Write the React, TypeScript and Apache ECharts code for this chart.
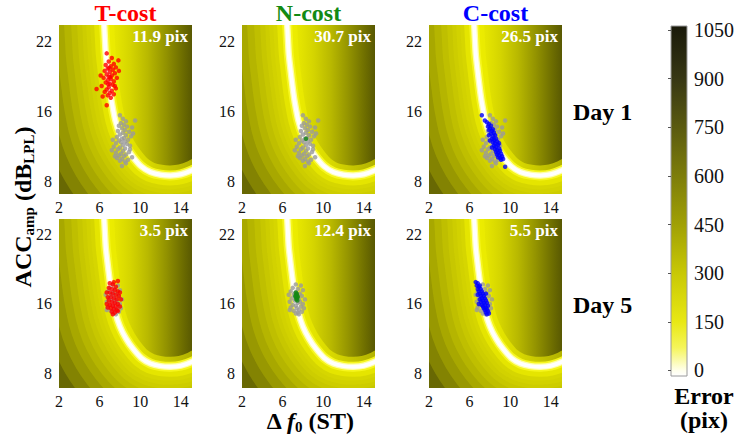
import React, { useEffect, useRef } from "react";
import * as echarts from "echarts";

const FONT = "Liberation Serif, serif";

// ---------- texts ----------
const colTitles = ["T-cost", "N-cost", "C-cost"];
const colColors = ["#ff0000", "#138a13", "#0000ff"];
const dayLabels = ["Day 1", "Day 5"];
const errTexts = [
  ["11.9 pix", "30.7 pix", "26.5 pix"],
  ["3.5 pix", "12.4 pix", "5.5 pix"],
];
const xTicks = [2, 6, 10, 14];
const yTicks = [8, 16, 22];
const cbTicks = [0, 150, 300, 450, 600, 750, 900, 1050];

// ---------- zero-error curve (Δf0 ST, ACC dB) ----------
const curve: number[][] = [
  [6.3, 25], [6.45, 23.4], [6.6, 21.0], [6.75, 19.8], [7.0, 18.0], [7.2, 16.8],
  [7.55, 15.0], [8.0, 13.4], [8.6, 12.0], [9.3, 10.8], [10.1, 9.75], [11.0, 9.1],
  [12.0, 8.8], [13.0, 8.72], [14.0, 8.85], [15.1, 9.3], [16.2, 10.0],
];

// ---------- scatter data ----------
const grayDay1: number[][] = [
  [8.0, 15.6], [8.3, 15.2], [9.5, 15.0], [8.6, 14.9], [8.1, 14.7], [8.4, 14.5], [7.9, 14.4],
  [8.7, 14.3], [9.2, 14.2], [8.2, 14.1], [8.5, 13.9], [7.8, 13.8], [8.9, 13.7], [8.3, 13.6],
  [8.0, 13.4], [8.6, 13.3], [9.1, 13.2], [7.7, 13.1], [8.4, 13.0], [8.2, 12.9], [8.8, 12.8],
  [7.9, 12.7], [8.5, 12.6], [8.1, 12.5], [7.6, 12.4], [8.7, 12.3], [8.3, 12.2], [9.0, 12.1],
  [7.4, 12.0], [8.0, 11.9], [8.5, 11.8], [7.8, 11.7], [7.2, 11.6], [8.3, 11.5], [8.9, 11.4],
  [7.6, 11.3], [8.1, 11.2], [8.6, 11.1], [7.9, 11.0], [8.4, 10.9], [9.2, 10.8], [7.7, 10.7],
  [8.2, 10.6], [8.8, 10.5], [8.0, 10.4], [8.5, 10.3], [7.5, 10.9], [9.0, 11.7], [8.2, 9.8],
  [7.3, 12.8], [9.3, 13.5], [8.6, 10.1],
];
const redDay1: number[][] = [
  [6.7, 21.0], [7.85, 20.4], [7.2, 20.6], [6.9, 20.3], [7.4, 20.1], [6.6, 20.0], [7.1, 19.9],
  [7.6, 19.8], [6.8, 19.7], [7.3, 19.6], [6.5, 19.5], [7.0, 19.4], [7.5, 19.3], [6.7, 19.2],
  [7.2, 19.1], [6.9, 19.0], [7.7, 18.9], [6.4, 18.9], [7.1, 18.8], [6.8, 18.7], [7.4, 18.6],
  [6.6, 18.5], [7.0, 18.4], [7.3, 18.3], [6.2, 18.2], [6.9, 18.1], [7.6, 18.0], [5.7, 17.95],
  [6.7, 17.9], [7.2, 17.8], [6.5, 17.7], [7.0, 17.6], [7.4, 17.5], [6.8, 17.4], [6.3, 17.3],
  [7.1, 17.2], [6.7, 16.55], [7.9, 19.5], [6.1, 19.1], [7.5, 18.2], [6.95, 19.75], [7.05, 18.95],
  [6.85, 18.35],
];
const greenDay1: number[][] = [[8.3, 12.9]];
const blueDay1: number[][] = [
  [7.2, 15.6], [7.5, 15.0], [7.7, 14.8], [7.9, 14.6], [7.8, 14.3], [8.1, 14.4], [8.0, 14.1],
  [7.9, 13.9], [8.2, 13.8], [8.1, 13.5], [8.4, 13.6], [7.9, 13.3], [8.3, 13.2], [8.5, 13.3],
  [8.2, 12.9], [8.4, 12.8], [8.6, 12.9], [8.3, 12.5], [8.5, 12.4], [8.7, 12.6], [8.4, 12.1],
  [8.6, 12.0], [8.8, 12.2], [8.2, 11.9], [8.5, 11.7], [8.7, 11.6], [8.9, 11.8], [8.6, 11.4],
  [8.8, 11.3], [9.0, 11.5], [8.7, 11.1], [8.9, 11.0], [9.1, 11.2], [8.8, 10.8], [9.0, 10.7],
  [9.2, 10.9], [9.1, 10.5], [9.3, 10.6], [9.5, 9.7], [8.3, 14.0], [8.0, 12.7], [8.9, 12.4],
];
const grayDay5: number[][] = [
  [7.3, 17.7], [7.8, 17.6], [7.0, 17.4], [7.5, 17.3], [8.0, 17.2], [6.8, 17.1], [7.3, 17.0],
  [7.7, 16.9], [6.6, 16.8], [7.1, 16.8], [7.9, 16.7], [7.4, 16.6], [6.9, 16.5], [7.6, 16.4],
  [8.2, 16.4], [7.2, 16.3], [6.7, 16.2], [7.5, 16.1], [8.0, 16.0], [7.0, 15.9], [7.3, 15.8],
  [7.8, 15.7], [6.8, 15.6], [7.4, 15.5], [7.6, 15.3], [7.1, 15.2], [7.9, 15.1], [7.3, 14.9],
  [7.6, 14.8], [8.1, 15.5], [6.7, 15.3], [7.2, 16.9], [7.7, 16.2], [7.5, 15.0],
];
const redDay5: number[][] = [
  [7.8, 18.0], [7.0, 17.8], [7.3, 17.7], [7.6, 17.5], [6.9, 17.4], [7.2, 17.3], [7.5, 17.2],
  [7.8, 17.1], [6.7, 17.0], [7.0, 17.0], [7.3, 16.9], [7.6, 16.8], [7.9, 16.7], [6.8, 16.6],
  [7.1, 16.6], [7.4, 16.5], [7.7, 16.4], [8.1, 16.4], [6.9, 16.3], [7.2, 16.2], [7.5, 16.1],
  [7.8, 16.0], [7.0, 15.9], [7.3, 15.8], [7.6, 15.7], [8.0, 15.7], [6.8, 15.6], [7.1, 15.5],
  [7.4, 15.4], [7.7, 15.3], [7.2, 15.1], [7.5, 15.0], [7.8, 15.2], [7.3, 14.8], [6.7, 16.0],
  [8.0, 17.0], [7.4, 17.9],
];
const greenDay5: number[][] = [
  [7.3, 17.0], [7.4, 16.9], [7.35, 16.8], [7.45, 16.7], [7.3, 16.6], [7.4, 16.5], [7.5, 16.6],
  [7.35, 16.4], [7.45, 16.3], [7.25, 16.7],
];
const blueDay5: number[][] = [
  [6.6, 17.9], [6.8, 17.8], [6.7, 17.6], [6.9, 17.5], [7.0, 17.6], [6.8, 17.3], [7.1, 17.3],
  [6.9, 17.1], [7.2, 17.1], [7.0, 16.9], [7.3, 16.9], [6.8, 16.8], [7.1, 16.7], [7.4, 16.7],
  [7.2, 16.5], [7.0, 16.4], [7.5, 16.5], [7.3, 16.3], [7.6, 16.3], [7.1, 16.2], [7.4, 16.1],
  [7.7, 16.1], [7.2, 15.9], [7.5, 15.9], [7.3, 15.7], [7.6, 15.6], [7.8, 15.8], [7.4, 15.5],
  [7.7, 15.4], [7.5, 15.3], [7.8, 15.2], [7.6, 15.0], [7.9, 14.9], [7.7, 14.8], [6.9, 16.0],
  [7.6, 16.9],
];

const grayByDay = [grayDay1, grayDay5];
const modelByDay = [
  [redDay1, greenDay1, blueDay1],
  [redDay5, greenDay5, blueDay5],
];

// ---------- y axis: tick positions evenly spaced (8, 16, 22) ----------
const toU = (y: number) => (y <= 16 ? (y - 8) / 8 : 1 + (y - 16) / 6);
const fromU = (u: number) => (u <= 1 ? 8 + 8 * u : 16 + 6 * (u - 1));

// ---------- layout / style ----------
const colLeft = [59, 242, 429];
const panelW = 133;
const rowTop = [25, 219];
const panelH = 169;
const uRange = [
  [-0.176, 2.239],
  [-0.217, 2.231],
];

const outerGlow = [170, 140, 116, 96, 80, 66, 54, 44, 36, 28].map((w) => ({
  w,
  c: "rgba(226,226,0,0.22)",
}));
const innerGlow = [
  { w: 20, c: "rgba(238,238,0,0.6)" },
  { w: 10, c: "rgb(246,246,30)" },
  { w: 6.5, c: "rgb(255,255,170)" },
  { w: 4, c: "#ffffff" },
];
const insideGrad = {
  type: "linear",
  x: 0, y: 0, x2: 1, y2: 0,
  colorStops: [
    { offset: 0, color: "rgb(238,238,0)" },
    { offset: 0.14, color: "rgb(228,228,0)" },
    { offset: 0.27, color: "rgb(212,212,0)" },
    { offset: 0.43, color: "rgb(185,185,0)" },
    { offset: 0.6, color: "rgb(148,148,0)" },
    { offset: 0.76, color: "rgb(110,110,0)" },
    { offset: 0.9, color: "rgb(78,78,3)" },
    { offset: 1, color: "rgb(65,65,5)" },
  ],
};
const cbGrad = {
  type: "linear",
  x: 0, y: 0, x2: 0, y2: 1,
  colorStops: [
    { offset: 0, color: "rgb(25,25,10)" },
    { offset: 0.15, color: "rgb(55,55,20)" },
    { offset: 0.289, color: "rgb(90,90,15)" },
    { offset: 0.428, color: "rgb(125,125,10)" },
    { offset: 0.567, color: "rgb(160,160,5)" },
    { offset: 0.706, color: "rgb(200,200,5)" },
    { offset: 0.845, color: "rgb(232,232,20)" },
    { offset: 0.919, color: "rgb(245,245,90)" },
    { offset: 0.984, color: "rgb(255,255,235)" },
    { offset: 1, color: "rgb(255,255,255)" },
  ],
};

const renderBackground = (params: any, api: any) => {
  if (params.dataIndex !== 0) return null;
  const pts = curve.map((p) => api.coord([p[0], toU(p[1])]));
  const first = pts[0];
  const last = pts[pts.length - 1];
  const children: any[] = [];
  const stroke = (g: { w: number; c: string }) => ({
    type: "polyline",
    shape: { points: pts, smooth: 0.25 },
    style: { fill: "none", stroke: g.c, lineWidth: g.w, lineJoin: "round", lineCap: "round" },
  });
  outerGlow.forEach((g) => children.push(stroke(g)));
  children.push({
    type: "polygon",
    shape: { points: [...pts, [last[0] + 4, first[1]]] },
    style: { fill: insideGrad },
  });
  innerGlow.forEach((g) => children.push(stroke(g)));
  return { type: "group", children };
};

function buildOption() {
  const grid: any[] = [];
  const xAxis: any[] = [];
  const yAxis: any[] = [];
  const series: any[] = [];
  const graphic: any[] = [];

  for (let r = 0; r < 2; r++) {
    for (let c = 0; c < 3; c++) {
      const gi = r * 3 + c;
      grid.push({
        left: colLeft[c], top: rowTop[r], width: panelW, height: panelH,
        show: true, backgroundColor: "rgb(70,70,5)", borderWidth: 0,
      });
      xAxis.push({
        gridIndex: gi, type: "value", min: 2, max: 15.1,
        axisLine: { show: false }, splitLine: { show: false },
        axisTick: { show: false },
        axisLabel: { customValues: xTicks, fontSize: 16, color: "#111", fontFamily: FONT, margin: 5 },
      });
      yAxis.push({
        gridIndex: gi, type: "value", min: uRange[r][0], max: uRange[r][1],
        axisLine: { show: false }, splitLine: { show: false },
        axisTick: { show: false },
        axisLabel: {
          customValues: yTicks.map(toU), fontSize: 16, color: "#111", fontFamily: FONT, margin: 7,
          formatter: (v: number) => String(Math.round(fromU(v))),
        },
      });
      series.push({
        type: "custom", xAxisIndex: gi, yAxisIndex: gi, clip: true, silent: true,
        renderItem: renderBackground,
        data: curve.map((p) => [p[0], toU(p[1])]),
      });
      series.push({
        type: "scatter", xAxisIndex: gi, yAxisIndex: gi, symbolSize: 4.5, silent: true,
        itemStyle: { color: "#9a9a9a" },
        data: grayByDay[r].map((p) => [p[0], toU(p[1])]),
      });
      series.push({
        type: "scatter", xAxisIndex: gi, yAxisIndex: gi, symbolSize: 4.5, silent: true,
        itemStyle: { color: colColors[c] },
        data: modelByDay[r][c].map((p) => [p[0], toU(p[1])]),
      });
      graphic.push({
        type: "text", z: 100,
        x: colLeft[c] + panelW - 4, y: rowTop[r] + 11,
        style: {
          text: errTexts[r][c], fill: "#ffffff", fontSize: 17, fontWeight: "bold",
          fontFamily: FONT, align: "right", verticalAlign: "middle",
        },
      });
    }
  }

  // colorbar
  grid.push({
    left: 671, top: 26, width: 16, height: 350,
    show: true, backgroundColor: cbGrad, borderColor: "#9a9a9a", borderWidth: 1,
  });
  xAxis.push({ gridIndex: 6, type: "value", min: 0, max: 1, show: false });
  yAxis.push({
    gridIndex: 6, type: "value", min: -17, max: 1062, position: "right",
    axisLine: { show: false }, splitLine: { show: false },
    axisTick: { show: true, inside: true, length: 3, customValues: cbTicks, lineStyle: { color: "#555" } },
    axisLabel: {
      customValues: cbTicks, fontSize: 20, color: "#111", fontFamily: FONT, margin: 7,
      formatter: (v: number) => String(v),
    },
  });

  // column titles
  colTitles.forEach((t, c) =>
    graphic.push({
      type: "text", z: 100, x: colLeft[c] + panelW / 2, y: 13,
      style: {
        text: t, fill: colColors[c], fontSize: 24, fontWeight: "bold",
        fontFamily: FONT, align: "center", verticalAlign: "middle",
      },
    })
  );
  // day labels
  dayLabels.forEach((t, r) =>
    graphic.push({
      type: "text", z: 100, x: 573, y: [112, 305][r],
      style: {
        text: t, fill: "#000", fontSize: 24, fontWeight: "bold",
        fontFamily: FONT, align: "left", verticalAlign: "middle",
      },
    })
  );
  // y title
  graphic.push({
    type: "text", z: 100, x: 23, y: 207, rotation: Math.PI / 2,
    style: {
      text: "{b|ACC}{s|amp}{b| (dB}{s|LPL}{b|)}",
      fill: "#000", align: "center", verticalAlign: "middle",
      rich: {
        b: { fontSize: 24, fontWeight: "bold", fontFamily: FONT, lineHeight: 26, verticalAlign: "middle", fill: "#000" },
        s: { fontSize: 15, fontWeight: "bold", fontFamily: FONT, lineHeight: 14, verticalAlign: "bottom", fill: "#000" },
      },
    },
  });
  // x title
  graphic.push({
    type: "text", z: 100, x: 310, y: 421,
    style: {
      text: "{b|Δ }{i|f}{s|0}{b| (ST)}",
      fill: "#000", align: "center", verticalAlign: "middle",
      rich: {
        b: { fontSize: 24, fontWeight: "bold", fontFamily: FONT, lineHeight: 26, verticalAlign: "middle", fill: "#000" },
        i: { fontSize: 24, fontWeight: "bold", fontStyle: "italic", fontFamily: FONT, lineHeight: 26, verticalAlign: "middle", fill: "#000" },
        s: { fontSize: 15, fontWeight: "bold", fontFamily: FONT, lineHeight: 14, verticalAlign: "bottom", fill: "#000" },
      },
    },
  });
  // colorbar title
  ["Error", "(pix)"].forEach((t, i) =>
    graphic.push({
      type: "text", z: 100, x: 704, y: 396 + i * 24,
      style: {
        text: t, fill: "#000", fontSize: 24, fontWeight: "bold",
        fontFamily: FONT, align: "center", verticalAlign: "middle",
      },
    })
  );

  return {
    animation: false,
    backgroundColor: "#ffffff",
    textStyle: { fontFamily: FONT },
    grid, xAxis, yAxis, series, graphic,
  };
}

export default function App() {
  const ref = useRef<HTMLDivElement>(null);
  useEffect(() => {
    if (!ref.current) return;
    const chart = echarts.init(ref.current, null, { renderer: "svg" });
    chart.setOption(buildOption() as any);
    return () => chart.dispose();
  }, []);
  return (
    <div
      ref={ref}
      style={{ position: "fixed", left: 0, top: 0, width: 737, height: 436 }}
    />
  );
}
